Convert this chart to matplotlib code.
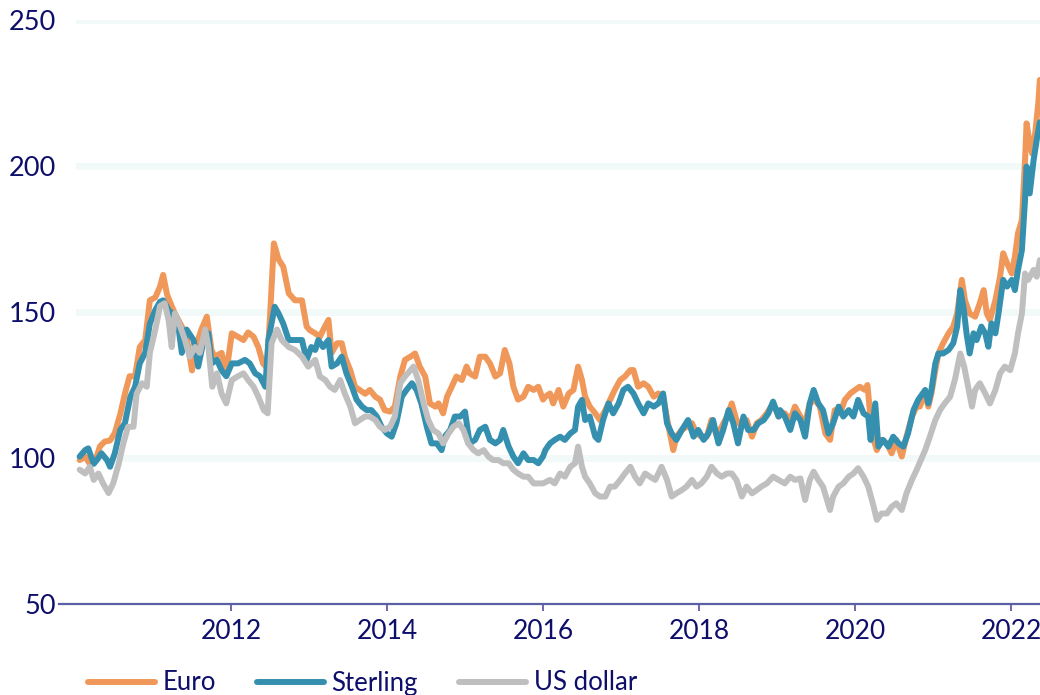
import matplotlib
matplotlib.use("Agg")
import matplotlib.pyplot as plt

# ---------------- data (fractional years, index values) ----------------
euro_year = [2010.06, 2010.13, 2010.19, 2010.26, 2010.32, 2010.38, 2010.45, 2010.51, 2010.58, 2010.64,
             2010.70, 2010.77, 2010.83, 2010.90, 2010.96, 2011.03, 2011.09, 2011.13, 2011.18, 2011.24,
             2011.28, 2011.37, 2011.43, 2011.50, 2011.56, 2011.62, 2011.69, 2011.75, 2011.79, 2011.88,
             2011.94, 2012.01, 2012.09, 2012.16, 2012.22, 2012.29, 2012.35, 2012.41, 2012.46, 2012.50,
             2012.55, 2012.61, 2012.67, 2012.74, 2012.82, 2012.91, 2012.97,
             2013.01, 2013.08, 2013.14, 2013.18, 2013.25, 2013.29, 2013.36, 2013.42, 2013.46, 2013.53,
             2013.59, 2013.65, 2013.72, 2013.78, 2013.85, 2013.91, 2013.97, 2014.04, 2014.10, 2014.17,
             2014.23, 2014.30, 2014.36, 2014.42, 2014.49, 2014.55, 2014.62, 2014.66, 2014.72, 2014.77,
             2014.83, 2014.89, 2014.96, 2015.02, 2015.06, 2015.13, 2015.19, 2015.26, 2015.32, 2015.39,
             2015.45, 2015.51, 2015.57, 2015.62, 2015.68, 2015.75, 2015.81, 2015.88, 2015.94, 2016.00,
             2016.03, 2016.09, 2016.13, 2016.20, 2016.26, 2016.33, 2016.39, 2016.45, 2016.50, 2016.54,
             2016.60, 2016.67, 2016.73, 2016.80, 2016.86, 2016.92, 2016.99, 2017.05, 2017.12, 2017.16,
             2017.22, 2017.29, 2017.35, 2017.42, 2017.48, 2017.54, 2017.61, 2017.67, 2017.71, 2017.78,
             2017.84, 2017.91, 2017.97, 2018.03, 2018.10, 2018.16, 2018.23, 2018.29, 2018.36, 2018.42,
             2018.48, 2018.55, 2018.61, 2018.68, 2018.74, 2018.80, 2018.87, 2018.95, 2019.02, 2019.08,
             2019.10, 2019.17, 2019.23, 2019.30, 2019.36, 2019.42, 2019.49, 2019.55, 2019.62, 2019.68,
             2019.74, 2019.81, 2019.87, 2019.94, 2020.00, 2020.06, 2020.13, 2020.16, 2020.19, 2020.24,
             2020.28, 2020.34, 2020.41, 2020.47, 2020.53, 2020.60, 2020.66, 2020.73, 2020.79,
             2020.83, 2020.90, 2020.94, 2020.98, 2021.03, 2021.07, 2021.13, 2021.20, 2021.26, 2021.31,
             2021.37, 2021.41, 2021.47, 2021.54, 2021.60, 2021.65, 2021.69, 2021.73, 2021.80, 2021.86,
             2021.90, 2021.95, 2022.01, 2022.05, 2022.09, 2022.14, 2022.18, 2022.20, 2022.24, 2022.27,
             2022.31, 2022.35, 2022.37]
euro_val = [99.3, 100.5, 98.0, 99.0, 104.0, 105.6, 106.0, 108.5, 115.0, 122.0,
            128.0, 128.0, 138.0, 140.4, 154.0, 155.0, 158.7, 162.7, 156.0, 152.0,
            149.5, 145.0, 141.5, 130.0, 139.0, 144.0, 148.4, 137.0, 134.7, 136.0,
            129.0, 142.7, 141.5, 140.4, 143.0, 141.5, 138.0, 132.4, 131.0, 148.4,
            173.5, 168.0, 165.5, 156.4, 154.0, 154.0, 145.0,
            143.8, 142.7, 141.5, 143.8, 147.3, 136.0, 139.3, 139.3, 134.7, 130.0,
            124.4, 123.3, 122.0, 123.3, 121.0, 120.0, 116.4, 115.9, 117.6, 127.9,
            133.6, 134.7, 135.8, 131.3, 127.9, 118.7, 117.6, 118.7, 115.3, 121.0,
            124.4, 127.9, 126.7, 131.3, 129.0, 127.9, 134.7, 134.7, 132.4, 127.9,
            129.0, 137.0, 132.4, 124.4, 120.0, 121.0, 124.4, 123.3, 124.4, 120.0,
            121.0, 122.1, 118.7, 123.3, 117.6, 122.1, 123.3, 131.3, 126.7, 121.0,
            117.6, 115.3, 113.0, 116.4, 119.9, 123.3, 126.7, 127.9, 130.1, 130.1,
            124.4, 125.6, 124.4, 121.0, 122.1, 121.0, 110.7, 102.7, 107.3, 109.6,
            110.7, 111.9, 108.4, 107.3, 107.3, 113.0, 107.3, 110.7, 114.2, 118.7,
            113.0, 110.7, 113.0, 107.3, 111.9, 113.0, 115.3, 118.7, 114.2, 115.3,
            115.3, 113.0, 117.6, 114.2, 111.9, 118.7, 119.9, 117.6, 108.4, 106.2,
            116.4, 115.3, 119.9, 122.1, 123.3, 124.4, 123.3, 125.0, 116.4, 106.2,
            102.7, 106.2, 105.0, 101.6, 106.2, 100.5, 107.3, 114.2, 117.6,
            117.6, 122.1, 117.6, 122.1, 130.1, 135.8, 139.3, 142.7, 145.0, 149.5,
            161.0, 154.0, 149.5, 148.4, 153.0, 157.5, 149.5, 147.3, 154.0, 162.1,
            170.1, 166.7, 163.2, 169.0, 177.0, 181.5, 202.0, 214.6, 207.8, 204.3,
            211.2, 221.5, 229.5]

sterling_year = [2010.06, 2010.13, 2010.17, 2010.24, 2010.28, 2010.34, 2010.41, 2010.45, 2010.51, 2010.58,
                 2010.64, 2010.71, 2010.77, 2010.83, 2010.90, 2010.96, 2011.03, 2011.09, 2011.13, 2011.20,
                 2011.26, 2011.33, 2011.37, 2011.43, 2011.52, 2011.58, 2011.65, 2011.71, 2011.75, 2011.82,
                 2011.88, 2011.94, 2012.01, 2012.09, 2012.18, 2012.24, 2012.31, 2012.37, 2012.44, 2012.48,
                 2012.56, 2012.61, 2012.67, 2012.74, 2012.82, 2012.91, 2012.97, 2013.03,
                 2013.08, 2013.12, 2013.18, 2013.25, 2013.29, 2013.36, 2013.42, 2013.48, 2013.55, 2013.61,
                 2013.68, 2013.74, 2013.80, 2013.87, 2013.93, 2014.00, 2014.06, 2014.12, 2014.19, 2014.25,
                 2014.32, 2014.38, 2014.44, 2014.51, 2014.57, 2014.64, 2014.70, 2014.74, 2014.81, 2014.87,
                 2014.94, 2015.00, 2015.06, 2015.13, 2015.19, 2015.26, 2015.32, 2015.39, 2015.45, 2015.49,
                 2015.56, 2015.62, 2015.68, 2015.75, 2015.81, 2015.88, 2015.94, 2016.00,
                 2016.03, 2016.09, 2016.15, 2016.22, 2016.28, 2016.35, 2016.41, 2016.45, 2016.50, 2016.54,
                 2016.60, 2016.67, 2016.71, 2016.77, 2016.84, 2016.90, 2016.97, 2017.03, 2017.09, 2017.16,
                 2017.22, 2017.29, 2017.35, 2017.42, 2017.48, 2017.54, 2017.59, 2017.65, 2017.71, 2017.78,
                 2017.86, 2017.93, 2017.99, 2018.06, 2018.12, 2018.18, 2018.25, 2018.31, 2018.38, 2018.44,
                 2018.50, 2018.57, 2018.63, 2018.70, 2018.76, 2018.83, 2018.89, 2018.95, 2019.02,
                 2019.04, 2019.10, 2019.17, 2019.23, 2019.30, 2019.36, 2019.42, 2019.47, 2019.53, 2019.59,
                 2019.66, 2019.72, 2019.79, 2019.85, 2019.92, 2019.98, 2020.04, 2020.11, 2020.17, 2020.20,
                 2020.26, 2020.30, 2020.36, 2020.43, 2020.49, 2020.56, 2020.62, 2020.68, 2020.75, 2020.81,
                 2020.90, 2020.94, 2020.98, 2021.03, 2021.07, 2021.13, 2021.20, 2021.26, 2021.31, 2021.35,
                 2021.39, 2021.43, 2021.47, 2021.52, 2021.56, 2021.62, 2021.67, 2021.71, 2021.75, 2021.80,
                 2021.84, 2021.90, 2021.95, 2022.01, 2022.05, 2022.09, 2022.14, 2022.18, 2022.20, 2022.24,
                 2022.29, 2022.33, 2022.37]
sterling_val = [100.5, 102.7, 103.3, 98.0, 99.3, 101.6, 99.3, 97.0, 101.6, 109.6,
                111.9, 121.0, 124.4, 132.4, 136.0, 146.0, 150.7, 153.5, 154.0, 150.7,
                149.0, 144.0, 136.0, 144.0, 140.4, 131.3, 140.4, 142.7, 132.4, 133.6,
                130.0, 128.0, 132.4, 132.4, 133.6, 132.4, 129.0, 128.0, 124.4, 140.4,
                151.8, 149.5, 146.0, 140.4, 140.4, 140.4, 133.6, 138.0,
                137.0, 140.4, 138.0, 140.4, 131.3, 132.4, 134.7, 129.0, 124.4, 120.0,
                117.6, 116.4, 116.4, 114.2, 110.7, 108.4, 107.3, 111.9, 121.0, 123.3,
                125.6, 123.3, 118.7, 110.7, 105.0, 105.0, 102.7, 107.3, 109.6, 114.2,
                114.2, 115.9, 105.0, 106.2, 109.6, 110.7, 106.2, 105.0, 106.2, 109.6,
                103.9, 100.5, 98.2, 101.6, 99.3, 99.3, 98.2, 100.5,
                102.7, 105.0, 106.2, 107.3, 106.2, 108.4, 109.6, 117.6, 119.9, 113.0,
                114.2, 107.3, 106.2, 113.0, 118.7, 115.3, 118.7, 123.3, 124.4, 122.1,
                118.7, 115.3, 118.7, 117.6, 118.7, 122.1, 111.9, 108.4, 106.2, 109.6,
                113.0, 107.3, 109.6, 106.2, 108.4, 113.0, 105.0, 109.6, 116.4, 111.9,
                105.0, 114.2, 109.6, 109.6, 111.9, 113.0, 115.3, 119.3, 114.2,
                116.4, 114.2, 109.6, 115.3, 113.0, 107.3, 118.7, 123.3, 118.7, 116.4,
                108.4, 111.9, 117.6, 114.2, 116.4, 114.2, 119.9, 115.3, 114.2, 106.2,
                118.7, 103.9, 106.2, 103.9, 107.3, 105.0, 103.9, 108.4, 116.4, 119.9,
                123.3, 118.7, 123.3, 132.4, 135.8, 135.8, 137.0, 139.3, 145.0, 157.5,
                151.8, 142.7, 135.8, 142.7, 140.4, 145.0, 142.7, 138.1, 146.1, 142.7,
                149.5, 161.0, 158.7, 161.0, 157.5, 164.4, 171.2, 188.4, 199.8, 190.6,
                202.0, 208.9, 215.0]

usd_year = [2010.06, 2010.13, 2010.19, 2010.24, 2010.30, 2010.36, 2010.43, 2010.49, 2010.56, 2010.62,
            2010.68, 2010.75, 2010.79, 2010.86, 2010.92, 2010.96, 2011.03, 2011.09, 2011.15, 2011.20,
            2011.24, 2011.28, 2011.35, 2011.41, 2011.47, 2011.54, 2011.60, 2011.67, 2011.71, 2011.76,
            2011.82, 2011.88, 2011.94, 2012.01, 2012.09, 2012.16, 2012.22, 2012.29, 2012.35, 2012.42,
            2012.47, 2012.52, 2012.59, 2012.65, 2012.74, 2012.82, 2012.91, 2012.99,
            2013.08, 2013.14, 2013.21, 2013.27, 2013.33, 2013.40, 2013.46, 2013.53, 2013.59, 2013.65,
            2013.72, 2013.78, 2013.85, 2013.91, 2013.97, 2014.04, 2014.10, 2014.17, 2014.23, 2014.30,
            2014.34, 2014.40, 2014.47, 2014.53, 2014.59, 2014.66, 2014.72, 2014.79, 2014.85, 2014.92,
            2014.98, 2015.04, 2015.11, 2015.17, 2015.24, 2015.30, 2015.36, 2015.43, 2015.49, 2015.56,
            2015.62, 2015.68, 2015.75, 2015.81, 2015.88, 2015.94, 2016.00,
            2016.09, 2016.15, 2016.22, 2016.28, 2016.35, 2016.41, 2016.45, 2016.50, 2016.54, 2016.60,
            2016.67, 2016.73, 2016.80, 2016.86, 2016.92, 2016.99, 2017.05, 2017.12, 2017.18, 2017.24,
            2017.31, 2017.37, 2017.44, 2017.52, 2017.59, 2017.65, 2017.71, 2017.78, 2017.84, 2017.91,
            2017.97, 2018.03, 2018.10, 2018.16, 2018.23, 2018.29, 2018.36, 2018.42, 2018.48, 2018.55,
            2018.61, 2018.68, 2018.74, 2018.80, 2018.87, 2018.95, 2019.02,
            2019.10, 2019.17, 2019.23, 2019.30, 2019.36, 2019.42, 2019.47, 2019.53, 2019.59, 2019.68,
            2019.72, 2019.79, 2019.85, 2019.92, 2019.98, 2020.04, 2020.11, 2020.17, 2020.24, 2020.28,
            2020.34, 2020.41, 2020.47, 2020.53, 2020.60, 2020.66, 2020.73, 2020.79,
            2020.90, 2020.96, 2021.03, 2021.09, 2021.15, 2021.22, 2021.28, 2021.35, 2021.40, 2021.45,
            2021.50, 2021.54, 2021.60, 2021.67, 2021.73, 2021.80, 2021.86, 2021.92, 2021.99, 2022.05,
            2022.09, 2022.14, 2022.18, 2022.22, 2022.29, 2022.33, 2022.37]
usd_val = [96.0, 94.7, 97.0, 92.5, 94.7, 91.3, 88.0, 91.3, 98.0, 105.0,
           110.7, 110.7, 122.0, 125.6, 124.4, 136.0, 144.0, 152.0, 153.0, 147.3,
           138.0, 149.5, 145.0, 140.4, 134.7, 138.0, 136.0, 144.0, 138.0, 124.4,
           129.0, 122.0, 118.7, 126.7, 128.0, 129.0, 126.7, 124.4, 121.0, 116.4,
           115.3, 139.3, 144.0, 140.4, 138.0, 137.0, 134.7, 131.3,
           133.6, 127.9, 126.7, 124.4, 123.3, 126.7, 122.0, 117.6, 111.9, 113.0,
           114.2, 114.2, 113.0, 110.7, 109.6, 110.7, 114.2, 125.6, 127.9, 130.0,
           131.3, 126.7, 118.7, 113.0, 109.6, 108.4, 105.0, 108.4, 110.7, 111.9,
           109.6, 105.0, 102.7, 101.6, 102.7, 100.5, 99.3, 99.3, 98.2, 98.2,
           96.0, 94.7, 93.6, 93.6, 91.3, 91.3, 91.3,
           92.5, 91.3, 94.7, 93.6, 97.0, 98.2, 103.9, 97.0, 93.6, 91.3,
           87.9, 86.8, 86.8, 90.2, 90.2, 92.5, 94.7, 97.0, 93.6, 91.3,
           94.7, 93.6, 92.5, 97.0, 92.5, 86.8, 87.9, 89.0, 90.2, 92.5,
           90.2, 91.3, 93.6, 97.0, 94.7, 93.6, 94.7, 94.7, 92.5, 86.8,
           90.2, 87.9, 89.0, 90.2, 91.3, 93.6, 92.5,
           91.3, 93.6, 92.5, 93.0, 85.6, 92.5, 95.3, 92.5, 90.2, 82.2,
           86.8, 90.2, 91.3, 93.6, 94.7, 96.5, 93.6, 90.2, 83.3, 78.8,
           81.0, 81.0, 83.3, 84.5, 82.2, 87.9, 92.5, 95.9,
           102.7, 107.3, 113.0, 116.4, 118.7, 121.0, 126.7, 135.8, 131.3, 124.4,
           117.6, 123.3, 125.6, 122.1, 118.7, 123.3, 129.0, 131.3, 130.1, 135.8,
           142.7, 149.5, 163.2, 161.0, 164.4, 162.1, 167.8]

series_names = ["Euro", "Sterling", "US dollar"]
series_colors = ["#F0985A", "#3590B0", "#BFBFBF"]
y_ticks = [50, 100, 150, 200, 250]
x_ticks = [2012, 2014, 2016, 2018, 2020, 2022]

# ---------------- figure ----------------
plt.rcParams['font.family'] = ['Lato', 'DejaVu Sans']
fig = plt.figure(figsize=(10.4, 6.95), dpi=100)
ax = fig.add_axes([59 / 1040, 91 / 695, 981 / 1040, 584 / 695])

axis_col = "#5A5FA6"
text_col = "#0E0E6B"

for yv in y_ticks[1:]:
    ax.axhline(yv, xmin=20 / 981, xmax=1, color="#F1F9F9", lw=5, zorder=0)

for xs, ys, name, col in zip([euro_year, sterling_year, usd_year],
                             [euro_val, sterling_val, usd_val],
                             series_names, series_colors):
    ax.plot(xs, ys, color=col, lw=4.3, label=name, solid_joinstyle='round',
            solid_capstyle='round', zorder=2)

ax.set_xlim(2009.795, 2022.372)
ax.set_ylim(50, 250)
ax.set_yticks(y_ticks)
ax.set_xticks(x_ticks)
ax.set_xticklabels([str(t) for t in x_ticks])

for s in ["top", "right", "left"]:
    ax.spines[s].set_visible(False)
ax.spines["bottom"].set_color(axis_col)
ax.spines["bottom"].set_linewidth(1.6)
ax.spines["bottom"].set_zorder(3)

ax.tick_params(axis='y', length=0, pad=2, labelsize=19.5, labelcolor=text_col)
ax.tick_params(axis='x', length=5, width=1.3, color=axis_col, direction='out',
               pad=6, labelsize=19, labelcolor=text_col)

leg = fig.legend(loc='center left', bbox_to_anchor=(88 / 1040, 1 - 683 / 695),
                 ncol=3, frameon=False, fontsize=18.5, handlelength=2.6,
                 handletextpad=0.3, columnspacing=1.6, borderpad=0, borderaxespad=0)
for t in leg.get_texts():
    t.set_color(text_col)
for h in leg.get_lines():
    h.set_linewidth(4.3)

fig.savefig("out.png", dpi=100)
